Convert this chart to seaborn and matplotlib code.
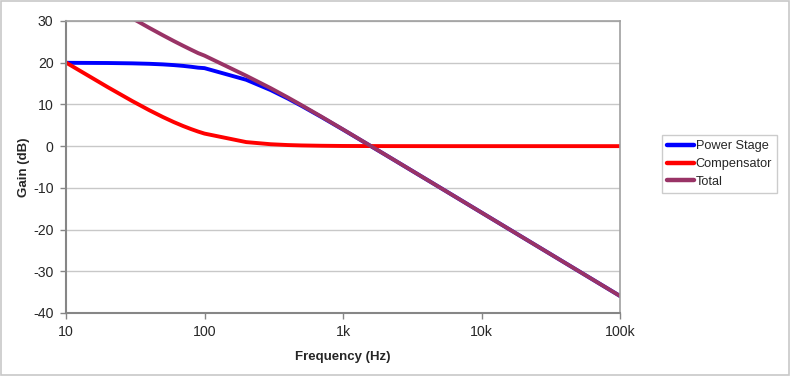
import matplotlib
matplotlib.use("Agg")
import matplotlib.pyplot as plt
import seaborn as sns
import pandas as pd
from matplotlib.patches import Rectangle
from matplotlib.lines import Line2D

freq = [10, 20, 30, 40, 50, 60, 70, 80, 90, 100, 200, 300, 400, 500, 700,
        1000, 2000, 5000, 10000, 100000]
power_stage = [19.98, 19.93, 19.85, 19.74, 19.60, 19.43, 19.24, 19.03, 18.81, 18.7,
               15.91, 13.45, 11.40, 9.68, 6.96, 3.97, -1.97, -9.90, -15.92, -35.92]
compensator = [20.04, 14.15, 10.83, 8.60, 6.99, 5.77, 4.83, 4.09, 3.49, 3.01,
               0.97, 0.46, 0.26, 0.17, 0.09, 0.04, 0.01, 0.0, 0.0, 0.0]
total = [40.02, 34.08, 30.68, 28.34, 26.59, 25.20, 24.07, 23.12, 22.30, 21.7,
         16.88, 13.91, 11.66, 9.85, 7.05, 4.01, -1.96, -9.90, -15.92, -35.92]
series_names = ["Power Stage", "Compensator", "Total"]
colors = ["#0000FF", "#FF0000", "#993366"]
xtick_vals = [10, 100, 1000, 10000, 100000]
xtick_labels = ["10", "100", "1k", "10k", "100k"]
ytick_vals = [-40, -30, -20, -10, 0, 10, 20, 30]

sns.set_style("white")
plt.rcParams['font.family'] = ['Liberation Sans', 'DejaVu Sans']
plt.rcParams['axes.unicode_minus'] = False

df = pd.DataFrame({
    "freq": freq * 3,
    "gain": power_stage + compensator + total,
    "series": [series_names[0]] * len(freq) + [series_names[1]] * len(freq) + [series_names[2]] * len(freq),
})

fig = plt.figure(figsize=(8, 3.77), dpi=100)
fig.patches.append(Rectangle((1 / 800, 2 / 377), 788 / 800, 374 / 377, transform=fig.transFigure,
                             fill=False, edgecolor="#c8c8c8", linewidth=1.2))
ax = fig.add_axes([66 / 800, 1 - 313 / 377, (620 - 66) / 800, (313 - 21) / 377])

sns.lineplot(data=df, x="freq", y="gain", hue="series", hue_order=series_names,
             palette=colors, linewidth=2.8, ax=ax, legend=False, sort=False)

ax.set_xscale("log")
ax.set_xlim(10, 100000)
ax.set_ylim(-40, 30)
ax.set_xticks(xtick_vals)
ax.set_xticklabels(xtick_labels)
ax.minorticks_off()
ax.set_yticks(ytick_vals)
ax.yaxis.grid(True, color="#c8c8c8", linewidth=1.0)
ax.set_axisbelow(True)
for side in ["left", "bottom"]:
    ax.spines[side].set_color("#868686")
    ax.spines[side].set_linewidth(1.5)
for side in ["top", "right"]:
    ax.spines[side].set_color("#a0a0a0")
    ax.spines[side].set_linewidth(1.2)
ax.tick_params(axis="both", which="major", direction="out", length=4, width=1,
               color="#868686", labelsize=10.2, pad=5, left=True, bottom=True)
ax.set_xlabel("Frequency (Hz)", fontsize=9.5, fontweight="bold", labelpad=8)
ax.set_ylabel("Gain (dB)", fontsize=9.5, fontweight="bold")
ax.yaxis.set_label_coords((30 - 66) / 554, 0.5)

handles = [Line2D([0], [0], color=c, linewidth=3.2) for c in colors]
leg = fig.legend(handles, series_names, loc="center left",
                 bbox_to_anchor=(662 / 800, 1 - 164 / 377), bbox_transform=fig.transFigure,
                 fontsize=9.2, frameon=True, fancybox=False, handlelength=2.1,
                 handletextpad=0.15, borderpad=0.4, labelspacing=0.45, borderaxespad=0)
leg.get_frame().set_edgecolor("#c0c0c0")
leg.get_frame().set_linewidth(1.0)

fig.savefig("out.png", dpi=100)
